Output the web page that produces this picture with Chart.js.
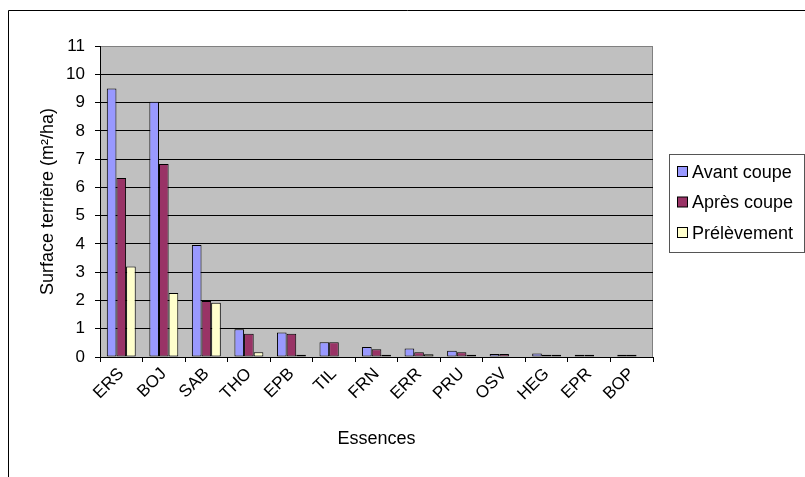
<!DOCTYPE html>
<html>
<head>
<meta charset="utf-8">
<script src="https://cdn.jsdelivr.net/npm/chart.js@4/dist/chart.umd.min.js"></script>
<style>
  html, body { margin: 0; padding: 0; background: #fff; }
  canvas { display: block; }
</style>
</head>
<body>
<canvas id="grafico" width="805" height="477"></canvas>
<script>
// Données
const essences = ['ERS', 'BOJ', 'SAB', 'THO', 'EPB', 'TIL', 'FRN', 'ERR', 'PRU', 'OSV', 'HEG', 'EPR', 'BOP'];
const avantCoupe = [9.5, 9.03, 3.96, 0.98, 0.87, 0.52, 0.35, 0.3, 0.22, 0.11, 0.12, 0.08, 0.08];
const apresCoupe = [6.33, 6.83, 1.98, 0.82, 0.82, 0.52, 0.27, 0.17, 0.17, 0.11, 0.08, 0.08, 0.08];
const prelevement = [3.2, 2.26, 1.92, 0.17, 0.08, null, 0.08, 0.1, 0.08, null, 0.08, null, null];
const seriesNoms = ['Avant coupe', 'Après coupe', 'Prélèvement'];
const seriesCouleurs = ['#9999FF', '#993366', '#FFFFCC'];

const police = 'Arial, "Liberation Sans", sans-serif';

// fond gris de la zone de tracé + cadre extérieur
const fondPlugin = {
  id: 'fond',
  beforeDraw(chart) {
    const { ctx, chartArea: a } = chart;
    ctx.save();
    ctx.fillStyle = '#C0C0C0';
    ctx.fillRect(a.left, a.top, a.right - a.left, a.bottom - a.top);
    ctx.strokeStyle = '#808080';
    ctx.lineWidth = 1;
    ctx.beginPath();
    ctx.moveTo(a.right - 0.5, a.top);
    ctx.lineTo(a.right - 0.5, a.bottom);
    ctx.stroke();
    // cadre du graphique
    ctx.strokeStyle = '#000';
    ctx.beginPath();
    ctx.moveTo(8.5, 480);
    ctx.lineTo(8.5, 10.5);
    ctx.lineTo(810, 10.5);
    ctx.stroke();
    ctx.restore();
  }
};

// légende dessinée à droite
const legendePlugin = {
  id: 'legende',
  afterDraw(chart) {
    const { ctx } = chart;
    ctx.save();
    ctx.fillStyle = '#fff';
    ctx.fillRect(669.5, 154.5, 135, 98);
    ctx.strokeStyle = '#555';
    ctx.lineWidth = 1;
    ctx.strokeRect(669.5, 154.5, 135, 98);
    ctx.font = '18px ' + police;
    ctx.textBaseline = 'middle';
    chart.data.datasets.forEach((ds, i) => {
      const y = 172 + i * 30.5;
      ctx.fillStyle = ds.backgroundColor;
      ctx.fillRect(677.5, y - 5.5, 10, 10);
      ctx.strokeStyle = '#000';
      ctx.strokeRect(677.5, y - 5.5, 10, 10);
      ctx.fillStyle = '#000';
      ctx.fillText(ds.label, 692, y + 1);
    });
    ctx.restore();
  }
};

new Chart(document.getElementById('grafico').getContext('2d'), {
  type: 'bar',
  data: {
    labels: essences,
    datasets: [avantCoupe, apresCoupe, prelevement].map((valeurs, i) => ({
      label: seriesNoms[i],
      data: valeurs,
      backgroundColor: seriesCouleurs[i],
      borderColor: '#000',
      borderWidth: 1,
      borderSkipped: false,
      categoryPercentage: 0.68,
      barPercentage: 1
    }))
  },
  options: {
    responsive: false,
    animation: false,
    layout: { padding: { left: 0, top: 46, right: 152, bottom: 0 } },
    plugins: {
      legend: { display: false },
      tooltip: { enabled: false }
    },
    scales: {
      x: {
        afterFit(scale) { scale.height = 120; },
        grid: { drawOnChartArea: false, drawTicks: true, tickLength: 5, color: '#000', offset: true },
        border: { color: '#000', width: 1 },
        ticks: {
          color: '#000',
          font: { family: police, size: 17 },
          minRotation: 45,
          maxRotation: 45,
          autoSkip: false,
          padding: 2
        },
        title: {
          display: true,
          text: 'Essences',
          color: '#000',
          font: { family: police, size: 18 },
          padding: { top: 0, bottom: 27 }
        }
      },
      y: {
        min: 0,
        max: 11,
        afterFit(scale) { scale.width = 100; },
        grid: {
          color: ctx => (ctx.tick && ctx.tick.value === 11 ? '#808080' : '#000'),
          tickColor: '#000',
          drawTicks: true,
          tickLength: 5
        },
        border: { color: '#000', width: 1 },
        ticks: {
          stepSize: 1,
          color: '#000',
          font: { family: police, size: 17 },
          padding: 10
        },
        title: {
          display: true,
          text: 'Surface terrière (m²/ha)',
          color: '#000',
          font: { family: police, size: 18 },
          padding: { top: 37, bottom: 0 }
        }
      }
    }
  },
  plugins: [fondPlugin, legendePlugin]
});
</script>
</body>
</html>
